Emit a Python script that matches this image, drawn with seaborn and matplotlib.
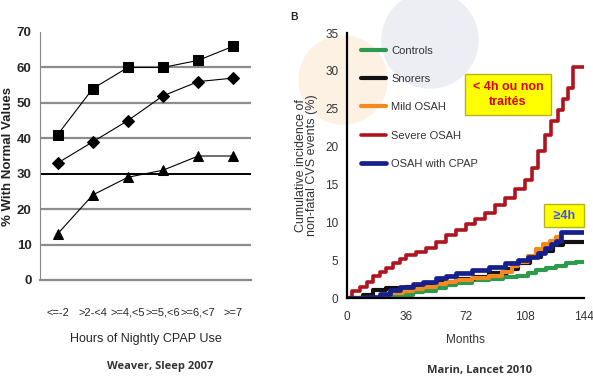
import matplotlib.pyplot as plt
import matplotlib.patches as mpatches
import numpy as np
import pandas as pd
import seaborn as sns

# --- données : graphique de gauche (Weaver) ---
hours = ['<=-2', '>2-<4', '>=4,<5', '>=5,<6', '>=6,<7', '>=7']
squares = [41, 54, 60, 60, 62, 66]
diamonds = [33, 39, 45, 52, 56, 57]
triangles = [13, 24, 29, 31, 35, 35]

# --- données : graphique de droite (Marin) ---
controls_m = [0, 24, 32, 40, 46, 54, 60, 66, 76, 86, 95, 103, 110, 115, 121, 127, 133, 139, 144]
controls_v = [0, 0.2, 0.5, 0.8, 0.9, 1.4, 1.7, 2.0, 2.4, 2.6, 2.8, 3.0, 3.4, 3.7, 4.0, 4.3, 4.6, 4.8, 4.8]
snorers_m = [0, 10, 16, 24, 36, 46, 56, 66, 77, 86, 97, 104, 111, 118, 125, 131, 144]
snorers_v = [0, 0.5, 1.1, 1.3, 1.5, 1.9, 2.2, 2.5, 2.8, 3.3, 3.9, 4.6, 5.4, 6.2, 7.0, 7.4, 7.4]
mild_m = [0, 20, 26, 34, 40, 46, 54, 60, 66, 76, 86, 94, 100, 104, 110, 115, 119, 123, 127, 130]
mild_v = [0, 0.3, 0.65, 1.0, 1.2, 1.5, 1.9, 2.2, 2.4, 2.7, 3.0, 3.5, 4.2, 4.8, 5.6, 6.5, 7.2, 7.6, 8.1, 8.3]
severe_m = [0, 3, 8, 12, 16, 20, 24, 28, 32, 36, 42, 48, 54, 60, 66, 72, 78, 84, 90, 96,
            102, 108, 112, 116, 120, 124, 128, 131, 134, 137, 144]
severe_v = [0, 0.9, 1.5, 2.2, 2.9, 3.5, 4.0, 4.6, 5.2, 5.7, 6.1, 6.6, 7.4, 8.4, 9.0, 9.8,
            10.4, 11.2, 12.3, 13.2, 14.4, 15.6, 17.2, 19.4, 21.5, 23.4, 24.8, 26.3, 27.8, 30.5, 30.5]
cpap_m = [0, 12, 20, 26, 32, 40, 46, 54, 60, 66, 76, 86, 96, 104, 110, 116, 120, 124, 127, 130, 144]
cpap_v = [0, 0.2, 0.6, 1.1, 1.5, 1.9, 2.2, 2.7, 3.0, 3.3, 3.7, 4.1, 4.6, 5.0, 5.4, 6.0, 6.6, 7.2, 7.5, 8.7, 8.8]

sns.set_style('white')
plt.rcParams['font.family'] = ['Liberation Sans', 'DejaVu Sans']

fig = plt.figure(figsize=(5.93, 3.77), dpi=100)
fig.patch.set_facecolor('white')

# cercles pâles du filigrane
fig.patches.append(mpatches.Ellipse((343 / 593, 1 - 80 / 377), 88 / 593, 88 / 377,
                                    transform=fig.transFigure, color='#fcf1e3', zorder=-10))
fig.patches.append(mpatches.Ellipse((430 / 593, 1 - 40 / 377), 96 / 593, 96 / 377,
                                    transform=fig.transFigure, color='#eceef3', zorder=-10))

# ---------- gauche ----------
ax1 = fig.add_axes([40 / 593, 1 - 280 / 377, 211 / 593, 248 / 377])
ax1.set_facecolor('none')
pos = np.arange(len(hours))
for vals, mk, ms in [(squares, 's', 6.5), (diamonds, 'D', 6), (triangles, '^', 6.5)]:
    sns.lineplot(x=pos, y=vals, ax=ax1, color='black', lw=0.8, marker=mk,
                 markersize=ms, markeredgecolor='black', zorder=3)
for g in [10, 20, 40, 50, 60]:
    ax1.axhline(g, color='#8c8c8c', lw=1.6, zorder=1)
ax1.axhline(30, color='black', lw=1.4, zorder=1)
ax1.set_xlim(-0.5, 5.5)
ax1.set_ylim(0, 70)
ax1.set_yticks(range(0, 71, 10))
ax1.set_xticks(pos, hours)
ax1.set_xticks(np.arange(-0.5, 6, 1), minor=True)
ax1.tick_params(axis='x', which='major', length=0, pad=20, labelsize=8)
ax1.tick_params(axis='x', which='minor', length=5, width=1, color='#777777', direction='inout')
ax1.tick_params(axis='y', length=3, color='#777777', labelsize=9.5, pad=3)
for lab in ax1.get_yticklabels():
    lab.set_fontweight('bold')
for s in ['top', 'right']:
    ax1.spines[s].set_visible(False)
ax1.spines['left'].set_color('#888888')
ax1.spines['bottom'].set_color('#888888')
ax1.spines['bottom'].set_linewidth(1.6)
ax1.set_xlabel('Hours of Nightly CPAP Use', fontsize=9, labelpad=11)
ax1.set_ylabel('% With Normal Values', fontsize=9.5, fontweight='bold', color='#222222')
ax1.yaxis.set_label_coords(-0.125, 0.5)

# ---------- droite ----------
ax2 = fig.add_axes([346.7 / 593, 1 - 298.3 / 377, 237.6 / 593, 265.3 / 377])
ax2.set_facecolor('none')
series = [
    ('Controls', controls_m, controls_v, '#2e9a4e', 3.0),
    ('Snorers', snorers_m, snorers_v, '#111111', 3.0),
    ('Mild OSAH', mild_m, mild_v, '#f28a1e', 3.0),
    ('Severe OSAH', severe_m, severe_v, '#b0141e', 2.6),
    ('OSAH with CPAP', cpap_m, cpap_v, '#16208c', 3.4),
]
for name, m, v, c, w in series:
    sns.lineplot(x=m, y=v, ax=ax2, color=c, lw=w, drawstyle='steps-post', label=name)
ax2.set_xlim(0, 144)
ax2.set_ylim(0, 35)
ax2.set_xticks([0, 36, 72, 108, 144])
ax2.set_yticks(range(0, 36, 5))
ax2.tick_params(length=5, width=1.4, color='black', labelsize=8.5, labelcolor='#333333')
ax2.tick_params(axis='x', pad=4)
ax2.tick_params(axis='y', pad=1)
for s in ['top', 'right']:
    ax2.spines[s].set_visible(False)
for s in ['left', 'bottom']:
    ax2.spines[s].set_linewidth(1.6)
    ax2.spines[s].set_color('black')
ax2.set_xlabel('Months', fontsize=8.5, color='#333333', labelpad=8)
ax2.set_ylabel('Cumulative incidence of\nnon-fatal CVS events (%)', fontsize=9,
               color='#333333', linespacing=0.95)
ax2.yaxis.set_label_coords(-0.12, 0.5)
leg = ax2.legend(loc='upper left', bbox_to_anchor=(0.02, 0.99), frameon=False,
                 fontsize=8, labelspacing=1.65, handlelength=2.2, handletextpad=0.5)
for t in leg.get_texts():
    t.set_color('#333333')

ax2.text(97.8, 26.9, '< 4h ou non\ntraités', ha='center', va='center', color='#e00000',
         fontsize=9, fontweight='bold', linespacing=1.3,
         bbox=dict(boxstyle='square,pad=0.6', fc='#ffff00', ec='#b5b51a', lw=1))
ax2.text(131.7, 10.9, ' ≥4h ', ha='center', va='center', color='#3a55ff',
         fontsize=9, fontweight='bold', clip_on=False,
         bbox=dict(boxstyle='square,pad=0.45', fc='#ffff00', ec='#b5b51a', lw=1))

fig.text(290 / 593, 1 - 17 / 377, 'B', fontsize=7.5, fontweight='bold', va='center')
fig.text(160 / 593, 1 - 366 / 377, 'Weaver, Sleep 2007', ha='center', va='center',
         fontsize=8, fontweight='bold', color='#333333', family='Open Sans')
fig.text(480 / 593, 1 - 370 / 377, 'Marin, Lancet 2010', ha='center', va='center',
         fontsize=8, fontweight='bold', color='#333333', family='Open Sans')

fig.savefig('out.png', dpi=100)
